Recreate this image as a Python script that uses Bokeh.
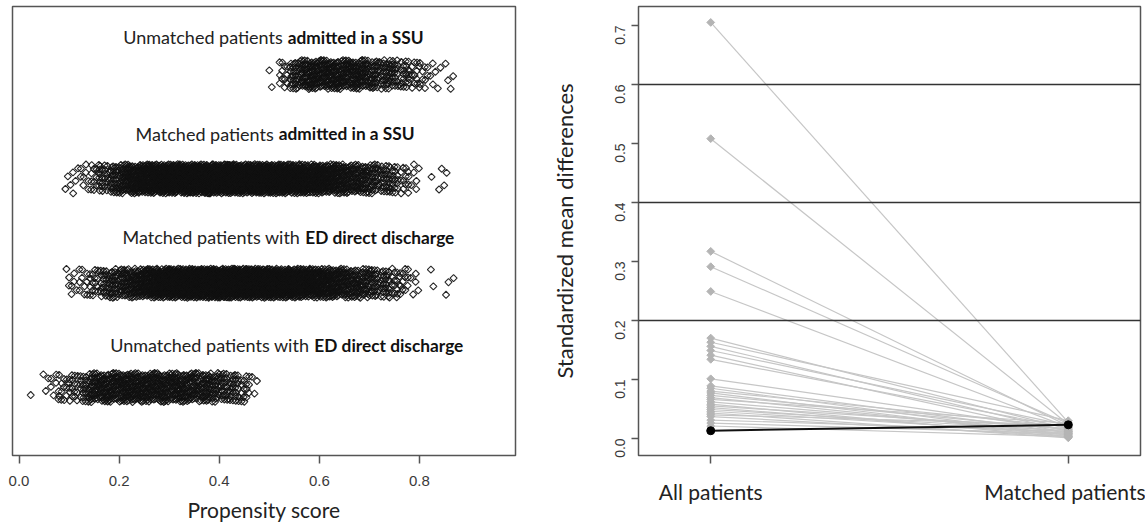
import math
from bokeh.plotting import figure
from bokeh.layouts import row
from bokeh.models import Range1d, FixedTicker, NumeralTickFormatter, Span, ColumnDataSource
from bokeh.core.properties import value
from bokeh.embed import file_html
from bokeh.resources import INLINE

# ---------------- data: left panel (propensity score jitter) ----------------
group_text_normal = ["Unmatched patients", "Matched patients", "Matched patients with", "Unmatched patients with"]
group_text_bold = ["admitted in a SSU", "admitted in a SSU", "ED direct discharge", "ED direct discharge"]
x_ticks = [0.0, 0.2, 0.4, 0.6, 0.8]
bin_width = 0.02  # counts per 0.02-wide propensity score bin, from 0.00 to 0.88 (44 bins)
counts_unmatched_ssu = [0, 0, 0, 0, 0, 0, 0, 0, 0, 0, 0, 0, 0, 0, 0, 0, 0, 0, 0, 0, 0, 0, 0, 0, 0,
                        2, 12, 28, 40, 46, 46, 46, 44, 42, 40, 34, 28, 26, 20, 14, 9, 5, 3, 2]
counts_matched_ssu = [0, 0, 0, 0, 2, 5, 8, 13, 22, 34, 46, 58, 70, 80, 86, 92, 96, 98, 100, 102, 102,
                      102, 100, 98, 96, 92, 88, 82, 76, 70, 64, 58, 50, 44, 38, 32, 26, 20, 13, 6, 0,
                      2, 3, 0]
counts_matched_ed = [0, 0, 0, 0, 2, 6, 10, 16, 24, 32, 40, 48, 58, 70, 80, 88, 94, 98, 102, 104, 104,
                     102, 100, 96, 92, 88, 84, 78, 72, 66, 60, 54, 48, 42, 36, 30, 24, 18, 12, 5, 0,
                     2, 2, 1]
counts_unmatched_ed = [0, 1, 3, 7, 12, 16, 22, 40, 44, 44, 48, 48, 46, 46, 44, 44, 44, 40, 38, 32,
                       28, 24, 16, 3, 0, 0, 0, 0, 0, 0, 0, 0, 0, 0, 0, 0, 0, 0, 0, 0, 0, 0, 0, 0]

# ---------------- data: right panel (standardized mean differences) ----------------
periods = ["All patients", "Matched patients"]
smd_all = [0.705, 0.508, 0.317, 0.291, 0.249, 0.170, 0.163, 0.156, 0.149, 0.141, 0.134, 0.101,
           0.089, 0.085, 0.080, 0.077, 0.073, 0.069, 0.066, 0.062, 0.058, 0.055, 0.052, 0.049,
           0.046, 0.043, 0.040, 0.037, 0.031, 0.026, 0.021]
smd_matched = [0.027, 0.024, 0.021, 0.025, 0.019, 0.016, 0.030, 0.012, 0.022, 0.008, 0.018, 0.014,
               0.010, 0.005, 0.020, 0.003, 0.015, 0.007, 0.026, 0.011, 0.002, 0.017, 0.006, 0.013,
               0.009, 0.001, 0.023, 0.004, 0.012, 0.008, 0.003]
smd_highlight = [0.013, 0.023]
y_ticks = [0.0, 0.1, 0.2, 0.3, 0.4, 0.5, 0.6, 0.7]
thresholds = [0.2, 0.4, 0.6]

CAL = "Lato"
ARIAL = "Liberation Sans"

# ---------------- left panel ----------------
p1 = figure(width=540, height=524, x_range=Range1d(-0.013, 0.992), y_range=Range1d(0.348, 4.652),
            output_backend="svg", toolbar_location=None, y_axis_location=None,
            min_border_left=12, min_border_right=25, min_border_top=6, min_border_bottom=69)
p1.grid.visible = False
p1.outline_line_color = "#555555"
p1.outline_line_width = 1.5

groups = [counts_unmatched_ssu, counts_matched_ssu, counts_matched_ed, counts_unmatched_ed]
centers = [4, 3, 2, 1]
a1, a2 = 0.7548776662466927, 0.5698402909980532
xs, ys = [], []
n = 0
for counts, c in zip(groups, centers):
    for b, cnt in enumerate(counts):
        for k in range(cnt):
            n += 1
            xs.append(b * bin_width + bin_width * ((0.5 + n * a1) % 1.0))
            ys.append(c + 0.14 * (2.0 * ((0.5 + n * a2) % 1.0) - 1.0))
p1.scatter(xs, ys, marker="square", angle=math.pi / 4, size=5, fill_color=None,
           line_color="#111111", line_width=1.1, line_alpha=0.9)

split_x = [0.527, 0.509, 0.562, 0.580]
label_y = [4.355, 3.431, 2.441, 1.403]
src_lab = ColumnDataSource(dict(x=split_x, y=label_y, tn=group_text_normal, tb=group_text_bold))
p1.text(x="x", y="y", text="tn", source=src_lab, text_align="right", text_baseline="middle",
        text_font=value(CAL), text_font_size="18px", text_color="#222222")
p1.text(x="x", y="y", text="tb", source=src_lab, text_align="left", text_baseline="middle",
        x_offset=5, text_font=value(CAL), text_font_size="17.3px", text_font_style="bold",
        text_color="#111111")

ax = p1.xaxis[0]
ax.ticker = FixedTicker(ticks=x_ticks)
ax.formatter = NumeralTickFormatter(format="0.0")
ax.axis_line_color = None
ax.major_tick_in = 0
ax.major_tick_out = 8
ax.major_tick_line_color = "#555555"
ax.major_tick_line_width = 1.5
ax.minor_tick_line_color = None
ax.major_label_text_font = ARIAL
ax.major_label_text_font_size = "15px"
ax.major_label_text_color = "#3a3a3a"
ax.major_label_standoff = 12
ax.axis_label = "Propensity score"
ax.axis_label_text_font = CAL
ax.axis_label_text_font_size = "21px"
ax.axis_label_text_font_style = "normal"
ax.axis_label_text_color = "#222222"
ax.axis_label_standoff = 8

# ---------------- right panel ----------------
p2 = figure(width=605, height=524, x_range=Range1d(0.798, 2.202), y_range=Range1d(-0.029, 0.732),
            output_backend="svg", toolbar_location=None,
            min_border_left=98, min_border_right=5, min_border_top=6, min_border_bottom=69)
p2.grid.visible = False
p2.outline_line_color = "#555555"
p2.outline_line_width = 1.5

xpos = {name: i + 1 for i, name in enumerate(periods)}
x_all = [xpos[periods[0]]] * len(smd_all)
x_m = [xpos[periods[1]]] * len(smd_matched)
p2.segment(x0=x_all, y0=smd_all, x1=x_m, y1=smd_matched, line_color="#c6c6c6", line_width=1.2)
p2.scatter(x_all, smd_all, marker="square", angle=math.pi / 4, size=5.5, fill_color="#b4b4b4",
           line_color="#b4b4b4")
p2.scatter(x_m, smd_matched, marker="square", angle=math.pi / 4, size=5.5, fill_color="#b4b4b4",
           line_color="#b4b4b4")
for t in thresholds:
    p2.add_layout(Span(location=t, dimension="width", line_color="#333333", line_width=1.5))
p2.line([xpos[p] for p in periods], smd_highlight, line_color="#111111", line_width=2)
p2.scatter([xpos[p] for p in periods], smd_highlight, marker="circle", size=8, fill_color="#000000",
           line_color="#000000")

ya = p2.yaxis[0]
ya.ticker = FixedTicker(ticks=y_ticks)
ya.formatter = NumeralTickFormatter(format="0.0")
ya.axis_line_color = None
ya.major_tick_in = 0
ya.major_tick_out = 7
ya.major_tick_line_color = "#555555"
ya.major_tick_line_width = 1.5
ya.minor_tick_line_color = None
ya.major_label_orientation = math.pi / 2
ya.major_label_text_font = ARIAL
ya.major_label_text_font_size = "14px"
ya.major_label_text_color = "#3a3a3a"
ya.major_label_standoff = 11
ya.axis_label = "Standardized mean differences"
ya.axis_label_text_font = CAL
ya.axis_label_text_font_size = "22px"
ya.axis_label_text_font_style = "normal"
ya.axis_label_text_color = "#222222"
ya.axis_label_standoff = 30

xa = p2.xaxis[0]
xa.ticker = FixedTicker(ticks=[xpos[p] for p in periods])
xa.major_label_overrides = {xpos[p]: p for p in periods}
xa.axis_line_color = None
xa.major_tick_in = 0
xa.major_tick_out = 8
xa.major_tick_line_color = "#555555"
xa.major_tick_line_width = 1.5
xa.minor_tick_line_color = None
xa.major_label_text_font = CAL
xa.major_label_text_font_size = "21px"
xa.major_label_text_color = "#222222"
xa.major_label_standoff = 15

layout = row(p1, p2, spacing=0)
open("out.html", "w").write(file_html(layout, INLINE))
